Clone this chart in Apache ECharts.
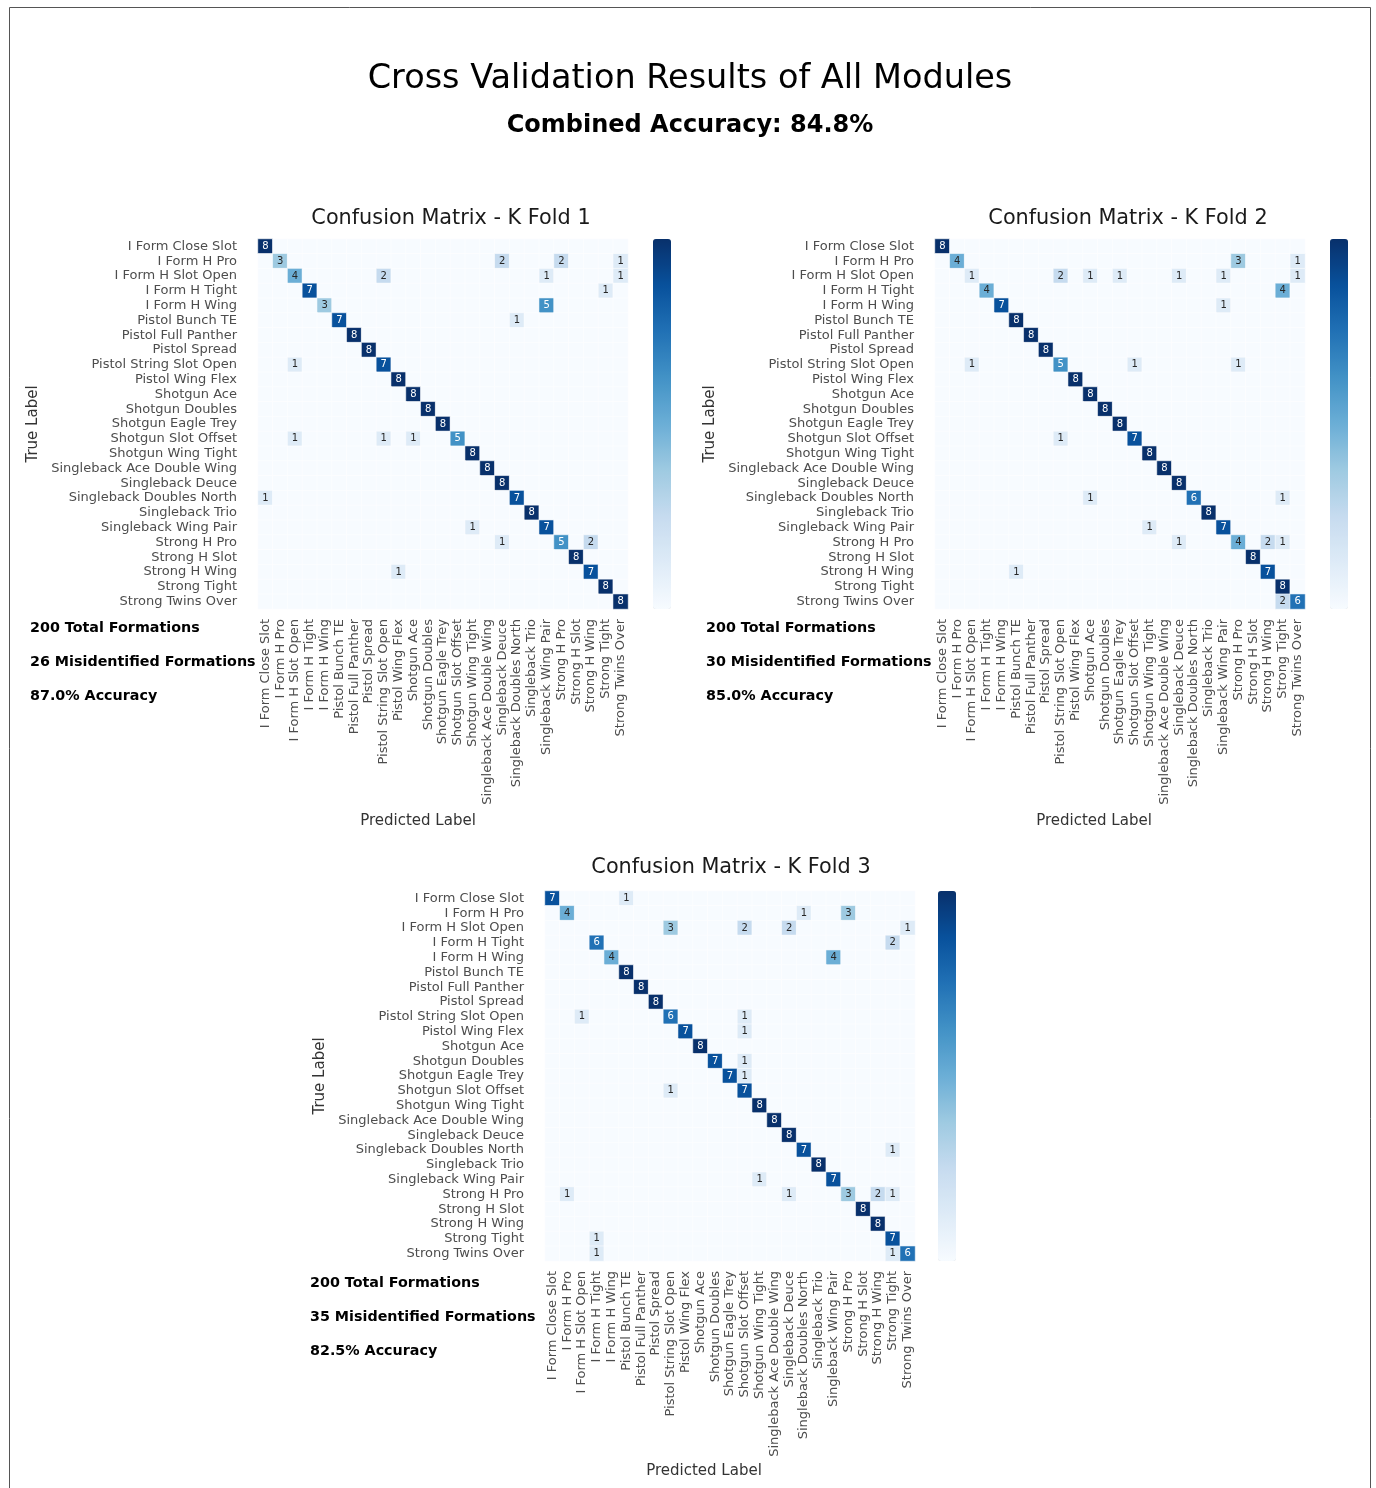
<!DOCTYPE html>
<html>
<head>
<meta charset="utf-8">
<title>Cross Validation Results of All Modules</title>
<script src="https://cdn.jsdelivr.net/npm/echarts@6/dist/echarts.min.js"></script>
<style>
  html, body { margin: 0; padding: 0; background: #ffffff; }
  #chart { width: 1376px; height: 1488px; }
</style>
</head>
<body>
<div id="chart"></div>
<script>
// Formation classes (same order on both axes)
const formations = [
  'I Form Close Slot', 'I Form H Pro', 'I Form H Slot Open', 'I Form H Tight', 'I Form H Wing',
  'Pistol Bunch TE', 'Pistol Full Panther', 'Pistol Spread', 'Pistol String Slot Open', 'Pistol Wing Flex',
  'Shotgun Ace', 'Shotgun Doubles', 'Shotgun Eagle Trey', 'Shotgun Slot Offset', 'Shotgun Wing Tight',
  'Singleback Ace Double Wing', 'Singleback Deuce', 'Singleback Doubles North', 'Singleback Trio', 'Singleback Wing Pair',
  'Strong H Pro', 'Strong H Slot', 'Strong H Wing', 'Strong Tight', 'Strong Twins Over'
];

// Confusion matrices: rows = true label, columns = predicted label
const fold1Matrix = [
  [8,0,0,0,0,0,0,0,0,0,0,0,0,0,0,0,0,0,0,0,0,0,0,0,0],
  [0,3,0,0,0,0,0,0,0,0,0,0,0,0,0,0,2,0,0,0,2,0,0,0,1],
  [0,0,4,0,0,0,0,0,2,0,0,0,0,0,0,0,0,0,0,1,0,0,0,0,1],
  [0,0,0,7,0,0,0,0,0,0,0,0,0,0,0,0,0,0,0,0,0,0,0,1,0],
  [0,0,0,0,3,0,0,0,0,0,0,0,0,0,0,0,0,0,0,5,0,0,0,0,0],
  [0,0,0,0,0,7,0,0,0,0,0,0,0,0,0,0,0,1,0,0,0,0,0,0,0],
  [0,0,0,0,0,0,8,0,0,0,0,0,0,0,0,0,0,0,0,0,0,0,0,0,0],
  [0,0,0,0,0,0,0,8,0,0,0,0,0,0,0,0,0,0,0,0,0,0,0,0,0],
  [0,0,1,0,0,0,0,0,7,0,0,0,0,0,0,0,0,0,0,0,0,0,0,0,0],
  [0,0,0,0,0,0,0,0,0,8,0,0,0,0,0,0,0,0,0,0,0,0,0,0,0],
  [0,0,0,0,0,0,0,0,0,0,8,0,0,0,0,0,0,0,0,0,0,0,0,0,0],
  [0,0,0,0,0,0,0,0,0,0,0,8,0,0,0,0,0,0,0,0,0,0,0,0,0],
  [0,0,0,0,0,0,0,0,0,0,0,0,8,0,0,0,0,0,0,0,0,0,0,0,0],
  [0,0,1,0,0,0,0,0,1,0,1,0,0,5,0,0,0,0,0,0,0,0,0,0,0],
  [0,0,0,0,0,0,0,0,0,0,0,0,0,0,8,0,0,0,0,0,0,0,0,0,0],
  [0,0,0,0,0,0,0,0,0,0,0,0,0,0,0,8,0,0,0,0,0,0,0,0,0],
  [0,0,0,0,0,0,0,0,0,0,0,0,0,0,0,0,8,0,0,0,0,0,0,0,0],
  [1,0,0,0,0,0,0,0,0,0,0,0,0,0,0,0,0,7,0,0,0,0,0,0,0],
  [0,0,0,0,0,0,0,0,0,0,0,0,0,0,0,0,0,0,8,0,0,0,0,0,0],
  [0,0,0,0,0,0,0,0,0,0,0,0,0,0,1,0,0,0,0,7,0,0,0,0,0],
  [0,0,0,0,0,0,0,0,0,0,0,0,0,0,0,0,1,0,0,0,5,0,2,0,0],
  [0,0,0,0,0,0,0,0,0,0,0,0,0,0,0,0,0,0,0,0,0,8,0,0,0],
  [0,0,0,0,0,0,0,0,0,1,0,0,0,0,0,0,0,0,0,0,0,0,7,0,0],
  [0,0,0,0,0,0,0,0,0,0,0,0,0,0,0,0,0,0,0,0,0,0,0,8,0],
  [0,0,0,0,0,0,0,0,0,0,0,0,0,0,0,0,0,0,0,0,0,0,0,0,8]
];

const fold2Matrix = [
  [8,0,0,0,0,0,0,0,0,0,0,0,0,0,0,0,0,0,0,0,0,0,0,0,0],
  [0,4,0,0,0,0,0,0,0,0,0,0,0,0,0,0,0,0,0,0,3,0,0,0,1],
  [0,0,1,0,0,0,0,0,2,0,1,0,1,0,0,0,1,0,0,1,0,0,0,0,1],
  [0,0,0,4,0,0,0,0,0,0,0,0,0,0,0,0,0,0,0,0,0,0,0,4,0],
  [0,0,0,0,7,0,0,0,0,0,0,0,0,0,0,0,0,0,0,1,0,0,0,0,0],
  [0,0,0,0,0,8,0,0,0,0,0,0,0,0,0,0,0,0,0,0,0,0,0,0,0],
  [0,0,0,0,0,0,8,0,0,0,0,0,0,0,0,0,0,0,0,0,0,0,0,0,0],
  [0,0,0,0,0,0,0,8,0,0,0,0,0,0,0,0,0,0,0,0,0,0,0,0,0],
  [0,0,1,0,0,0,0,0,5,0,0,0,0,1,0,0,0,0,0,0,1,0,0,0,0],
  [0,0,0,0,0,0,0,0,0,8,0,0,0,0,0,0,0,0,0,0,0,0,0,0,0],
  [0,0,0,0,0,0,0,0,0,0,8,0,0,0,0,0,0,0,0,0,0,0,0,0,0],
  [0,0,0,0,0,0,0,0,0,0,0,8,0,0,0,0,0,0,0,0,0,0,0,0,0],
  [0,0,0,0,0,0,0,0,0,0,0,0,8,0,0,0,0,0,0,0,0,0,0,0,0],
  [0,0,0,0,0,0,0,0,1,0,0,0,0,7,0,0,0,0,0,0,0,0,0,0,0],
  [0,0,0,0,0,0,0,0,0,0,0,0,0,0,8,0,0,0,0,0,0,0,0,0,0],
  [0,0,0,0,0,0,0,0,0,0,0,0,0,0,0,8,0,0,0,0,0,0,0,0,0],
  [0,0,0,0,0,0,0,0,0,0,0,0,0,0,0,0,8,0,0,0,0,0,0,0,0],
  [0,0,0,0,0,0,0,0,0,0,1,0,0,0,0,0,0,6,0,0,0,0,0,1,0],
  [0,0,0,0,0,0,0,0,0,0,0,0,0,0,0,0,0,0,8,0,0,0,0,0,0],
  [0,0,0,0,0,0,0,0,0,0,0,0,0,0,1,0,0,0,0,7,0,0,0,0,0],
  [0,0,0,0,0,0,0,0,0,0,0,0,0,0,0,0,1,0,0,0,4,0,2,1,0],
  [0,0,0,0,0,0,0,0,0,0,0,0,0,0,0,0,0,0,0,0,0,8,0,0,0],
  [0,0,0,0,0,1,0,0,0,0,0,0,0,0,0,0,0,0,0,0,0,0,7,0,0],
  [0,0,0,0,0,0,0,0,0,0,0,0,0,0,0,0,0,0,0,0,0,0,0,8,0],
  [0,0,0,0,0,0,0,0,0,0,0,0,0,0,0,0,0,0,0,0,0,0,0,2,6]
];

const fold3Matrix = [
  [7,0,0,0,0,1,0,0,0,0,0,0,0,0,0,0,0,0,0,0,0,0,0,0,0],
  [0,4,0,0,0,0,0,0,0,0,0,0,0,0,0,0,0,1,0,0,3,0,0,0,0],
  [0,0,0,0,0,0,0,0,3,0,0,0,0,2,0,0,2,0,0,0,0,0,0,0,1],
  [0,0,0,6,0,0,0,0,0,0,0,0,0,0,0,0,0,0,0,0,0,0,0,2,0],
  [0,0,0,0,4,0,0,0,0,0,0,0,0,0,0,0,0,0,0,4,0,0,0,0,0],
  [0,0,0,0,0,8,0,0,0,0,0,0,0,0,0,0,0,0,0,0,0,0,0,0,0],
  [0,0,0,0,0,0,8,0,0,0,0,0,0,0,0,0,0,0,0,0,0,0,0,0,0],
  [0,0,0,0,0,0,0,8,0,0,0,0,0,0,0,0,0,0,0,0,0,0,0,0,0],
  [0,0,1,0,0,0,0,0,6,0,0,0,0,1,0,0,0,0,0,0,0,0,0,0,0],
  [0,0,0,0,0,0,0,0,0,7,0,0,0,1,0,0,0,0,0,0,0,0,0,0,0],
  [0,0,0,0,0,0,0,0,0,0,8,0,0,0,0,0,0,0,0,0,0,0,0,0,0],
  [0,0,0,0,0,0,0,0,0,0,0,7,0,1,0,0,0,0,0,0,0,0,0,0,0],
  [0,0,0,0,0,0,0,0,0,0,0,0,7,1,0,0,0,0,0,0,0,0,0,0,0],
  [0,0,0,0,0,0,0,0,1,0,0,0,0,7,0,0,0,0,0,0,0,0,0,0,0],
  [0,0,0,0,0,0,0,0,0,0,0,0,0,0,8,0,0,0,0,0,0,0,0,0,0],
  [0,0,0,0,0,0,0,0,0,0,0,0,0,0,0,8,0,0,0,0,0,0,0,0,0],
  [0,0,0,0,0,0,0,0,0,0,0,0,0,0,0,0,8,0,0,0,0,0,0,0,0],
  [0,0,0,0,0,0,0,0,0,0,0,0,0,0,0,0,0,7,0,0,0,0,0,1,0],
  [0,0,0,0,0,0,0,0,0,0,0,0,0,0,0,0,0,0,8,0,0,0,0,0,0],
  [0,0,0,0,0,0,0,0,0,0,0,0,0,0,1,0,0,0,0,7,0,0,0,0,0],
  [0,1,0,0,0,0,0,0,0,0,0,0,0,0,0,0,1,0,0,0,3,0,2,1,0],
  [0,0,0,0,0,0,0,0,0,0,0,0,0,0,0,0,0,0,0,0,0,8,0,0,0],
  [0,0,0,0,0,0,0,0,0,0,0,0,0,0,0,0,0,0,0,0,0,0,8,0,0],
  [0,0,0,1,0,0,0,0,0,0,0,0,0,0,0,0,0,0,0,0,0,0,0,7,0],
  [0,0,0,1,0,0,0,0,0,0,0,0,0,0,0,0,0,0,0,0,0,0,0,1,6]
];

const foldTitles = ['Confusion Matrix - K Fold 1', 'Confusion Matrix - K Fold 2', 'Confusion Matrix - K Fold 3'];
const totalFormations = [200, 200, 200];
const misidentified = [26, 30, 35];
const accuracies = ['87.0%', '85.0%', '82.5%'];
const combinedAccuracy = '84.8%';

// Matplotlib "Blues" ramp
const blues = ['#f7fbff', '#deebf7', '#c6dbef', '#9ecae1', '#6baed6', '#4292c6', '#2171b5', '#08519c', '#08306b'];

const FONT = '"DejaVu Sans", "Liberation Sans", sans-serif';
const TICK_COLOR = '#4d4d4d';

// Panel placement: matrix box and colour bar
const panels = [
  { left: 258, top: 239, size: 370, barLeft: 653, titleX: 451, titleY: 219, predX: 418, predY: 821, trueX: 33, statsX: 30, statsY: 628 },
  { left: 935, top: 239, size: 370, barLeft: 1330, titleX: 1128, titleY: 219, predX: 1094, predY: 821, trueX: 710, statsX: 706, statsY: 628 },
  { left: 545, top: 891, size: 370, barLeft: 938, titleX: 731, titleY: 868, predX: 704, predY: 1471, trueX: 320, statsX: 310, statsY: 1283 }
];
const matrices = [fold1Matrix, fold2Matrix, fold3Matrix];

function toHeatData(m) {
  const out = [];
  m.forEach((row, r) => {
    row.forEach((v, c) => {
      out.push({
        value: [c, r, v],
        label: { color: v >= 5 ? '#ffffff' : '#262626' }
      });
    });
  });
  return out;
}

const grid = [], xAxis = [], yAxis = [], series = [], visualMap = [], graphic = [];

// outer frame
graphic.push({
  type: 'rect', silent: true, z: 0,
  shape: { x: 9.5, y: 7.5, width: 1361, height: 1500 },
  style: { fill: 'none', stroke: '#555555', lineWidth: 1 }
});
graphic.push({
  type: 'text', z: 10,
  style: { text: 'Cross Validation Results of All Modules', x: 690, y: 79, textAlign: 'center', textVerticalAlign: 'middle',
           font: '33.5px ' + FONT, fill: '#000000' }
});
graphic.push({
  type: 'text', z: 10,
  style: { text: 'Combined Accuracy: ' + combinedAccuracy, x: 690, y: 126, textAlign: 'center', textVerticalAlign: 'middle',
           font: 'bold 24px ' + FONT, fill: '#000000' }
});

panels.forEach((p, i) => {
  grid.push({ left: p.left, top: p.top, width: p.size, height: p.size, containLabel: false });
  xAxis.push({
    type: 'category', gridIndex: i, data: formations, position: 'bottom',
    axisLine: { show: false }, axisTick: { show: false }, splitArea: { show: false },
    axisLabel: { rotate: 90, interval: 0, fontSize: 13, fontFamily: FONT, color: TICK_COLOR, margin: 10 }
  });
  yAxis.push({
    type: 'category', gridIndex: i, data: formations, inverse: true,
    axisLine: { show: false }, axisTick: { show: false }, splitArea: { show: false },
    axisLabel: { interval: 0, fontSize: 13, fontFamily: FONT, color: TICK_COLOR, margin: 21 }
  });
  series.push({
    type: 'heatmap', xAxisIndex: i, yAxisIndex: i,
    data: toHeatData(matrices[i]),
    itemStyle: { borderColor: 'rgba(255,255,255,0.55)', borderWidth: 1 },
    label: {
      show: true, fontSize: 10, fontFamily: FONT,
      formatter: (d) => (d.value[2] === 0 ? '' : String(d.value[2]))
    },
    emphasis: { disabled: true }
  });
  visualMap.push({
    type: 'continuous', seriesIndex: i, dimension: 2, min: 0, max: 8,
    calculable: false, show: true, orient: 'vertical',
    left: p.barLeft, top: p.top, itemWidth: 18, itemHeight: p.size, padding: 0,
    text: null, inRange: { color: blues }
  });
  graphic.push({
    type: 'text', z: 10,
    style: { text: foldTitles[i], x: p.titleX, y: p.titleY, textAlign: 'center', textVerticalAlign: 'middle',
             font: '20.8px ' + FONT, fill: '#1a1a1a' }
  });
  graphic.push({
    type: 'text', z: 10,
    style: { text: 'Predicted Label', x: p.predX, y: p.predY, textAlign: 'center', textVerticalAlign: 'middle',
             font: '15px ' + FONT, fill: '#333333' }
  });
  graphic.push({
    type: 'text', z: 10, x: p.trueX, y: p.top + p.size / 2, rotation: Math.PI / 2,
    style: { text: 'True Label', x: 0, y: 0, textAlign: 'center', textVerticalAlign: 'middle',
             font: '15px ' + FONT, fill: '#333333' }
  });
  const stats = [
    totalFormations[i] + ' Total Formations',
    misidentified[i] + ' Misidentified Formations',
    accuracies[i] + ' Accuracy'
  ];
  stats.forEach((s, k) => {
    graphic.push({
      type: 'text', z: 10,
      style: { text: s, x: p.statsX, y: p.statsY + k * 34, textAlign: 'left', textVerticalAlign: 'middle',
               font: 'bold 14.3px ' + FONT, fill: '#000000' }
    });
  });
});

const chart = echarts.init(document.getElementById('chart'), null, { renderer: 'canvas' });
chart.setOption({
  animation: false,
  backgroundColor: '#ffffff',
  grid, xAxis, yAxis, series, visualMap, graphic
});
</script>
</body>
</html>
